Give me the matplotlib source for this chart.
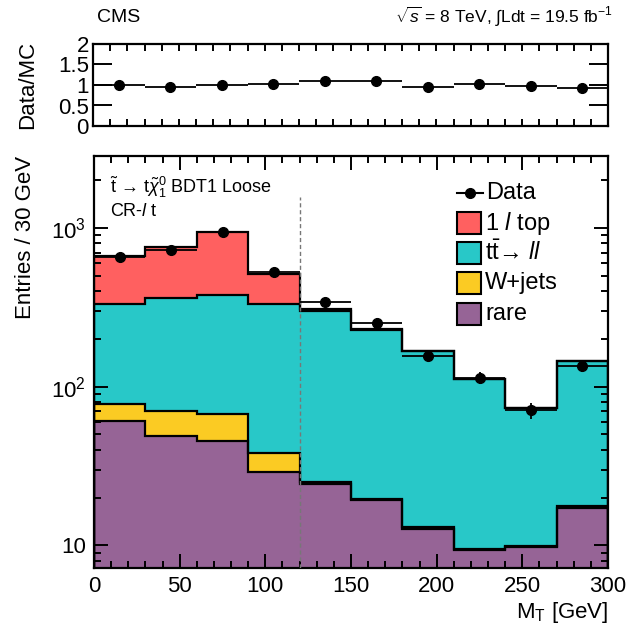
import numpy as np
import matplotlib
matplotlib.use("Agg")
import matplotlib.pyplot as plt
from matplotlib.patches import Rectangle
from matplotlib.lines import Line2D
from matplotlib.ticker import MultipleLocator, FixedLocator, NullFormatter

plt.rcParams['font.family'] = ['Liberation Sans', 'DejaVu Sans']
plt.rcParams['mathtext.fontset'] = 'custom'
plt.rcParams['mathtext.rm'] = 'Liberation Sans'
plt.rcParams['mathtext.it'] = 'Liberation Sans:italic'
plt.rcParams['mathtext.bf'] = 'Liberation Sans:bold'

# M_T binning [GeV]
edges = np.arange(0, 301, 30)
centers = 0.5 * (edges[:-1] + edges[1:])

# Background yields per bin (stack order bottom -> top)
rare = np.array([61, 49, 45.5, 29, 24.5, 19.2, 12.7, 9.4, 9.75, 17.1])
wjets = np.array([17, 21, 21.5, 9, 0.5, 0.3, 0.3, 0.1, 0.1, 0.6])
ttbar_ll = np.array([252, 290, 311, 292, 276, 208.5, 154, 102.5, 63.2, 127.3])
onelep_top = np.array([336, 395, 566, 181, 10, 2, 0.1, 0.1, 0.1, 0.1])

# Observed events
data = np.array([660, 725, 950, 528, 341, 254, 157, 114, 71, 136])

components = [
    ("rare", rare, "#966496"),
    ("W+jets", wjets, "#fbcb23"),
    (r"t$\bar{\rm t}$→ $\mathit{ll}$", ttbar_ll, "#28c8c8"),
    (r"1 $\mathit{l}$ top", onelep_top, "#ff6060"),
]

W, H = 630, 624
fig = plt.figure(figsize=(W / 100, H / 100), dpi=100)


def fx(px):
    return px / W


def fy(py):
    return 1 - py / H


ax_r = fig.add_axes([fx(93), fy(126), fx(608) - fx(93), fy(44) - fy(126)])
ax = fig.add_axes([fx(94), fy(568), fx(608) - fx(94), fy(155.7) - fy(568)])

ymin, ymax = 7.2, 2860

# Stacked histogram
base = np.full(len(rare), 1.0)
cum = np.zeros(len(rare))
for label, vals, col in components:
    cum = cum + vals
    ax.stairs(cum, edges, baseline=base, fill=True, color=col, zorder=1)
    base = cum.copy()
cum = np.zeros(len(rare))
for label, vals, col in components:
    cum = cum + vals
    ax.stairs(cum, edges, color='black', lw=1.6, zorder=2)
mc_total = cum

# Signal region boundary
ax.vlines(120, ymin, 1576, colors='#777777', linestyles=(0, (3, 2)), lw=1.0, zorder=3)

# Data
ax.errorbar(centers, data, xerr=15, yerr=np.sqrt(data), fmt='o', color='black',
            ms=7, lw=1.3, capsize=0, zorder=5)

ax.set_yscale('log')
ax.set_xlim(0, 300)
ax.set_ylim(ymin, ymax)
ax.yaxis.set_major_locator(FixedLocator([10, 100, 1000]))
ax.set_yticklabels(['10', r'$10^2$', r'$10^3$'])
ax.yaxis.set_minor_locator(FixedLocator(
    [m * 10 ** e for e in range(0, 4) for m in range(2, 10)]))
ax.yaxis.set_minor_formatter(NullFormatter())
ax.xaxis.set_major_locator(MultipleLocator(50))
ax.xaxis.set_minor_locator(MultipleLocator(10))

for a in (ax, ax_r):
    a.tick_params(which='both', direction='in', top=True, right=True,
                  labelsize=16, width=1.4, pad=6)
    a.tick_params(which='major', length=10)
    a.tick_params(which='minor', length=5)
    for s in a.spines.values():
        s.set_linewidth(1.6)

ax.set_xlabel(r'M$_{\rm T}$ [GeV]', fontsize=16, loc='right', labelpad=2)
ax.set_ylabel('Entries / 30 GeV', fontsize=16, loc='top')
ax.yaxis.set_label_coords((36 - 94) / 514, 1.0)

# Ratio panel
ratio = data / mc_total
ratio_err = np.sqrt(data) / mc_total
ax_r.errorbar(centers, ratio, xerr=15, yerr=ratio_err, fmt='o', color='black',
              ms=7, lw=1.3, capsize=0, zorder=5)
ax_r.set_xlim(0, 300)
ax_r.set_ylim(0, 2)
ax_r.set_yticks([0, 0.5, 1, 1.5, 2])
ax_r.set_yticklabels(['0', '0.5', '1', '1.5', '2'])
ax_r.xaxis.set_major_locator(MultipleLocator(50))
ax_r.xaxis.set_minor_locator(MultipleLocator(10))
ax_r.tick_params(axis='x', which='major', length=5)
ax_r.tick_params(axis='y', which='major', length=14, pad=3)
ax_r.set_xticklabels([])
ax_r.set_ylabel('Data/MC', fontsize=16)
ax_r.yaxis.set_label_coords((38 - 93) / 515, 0.5)

# Header
fig.text(fx(97), fy(17), 'CMS', fontsize=14, va='center', ha='left')
fig.text(fx(613), fy(17), r'$\sqrt{s}$ = 8 TeV, $\int$Ldt = 19.5 fb$^{-1}$',
         fontsize=12.5, va='center', ha='right')

# Selection labels
fig.text(fx(110), fy(187), r'$\tilde{\rm t}$ → t$\tilde{\chi}^{0}_{1}$ BDT1 Loose',
         fontsize=13, va='center', ha='left')
fig.text(fx(110), fy(211), r'CR-$\mathit{l}$ t', fontsize=13, va='center', ha='left')

# Legend
fig.add_artist(Line2D([fx(457), fx(483)], [fy(193), fy(193)], color='black', lw=1.5,
                      transform=fig.transFigure))
fig.add_artist(Line2D([fx(470)], [fy(193)], color='black', marker='o', ms=7,
                      transform=fig.transFigure))
fig.text(fx(486), fy(193), 'Data', fontsize=17, va='center', ha='left')
leg_rows = [(223, components[3]), (253, components[2]), (283, components[1]),
            (314, components[0])]
for yc, (label, vals, col) in leg_rows:
    fig.add_artist(Rectangle((fx(457), fy(yc + 11)), fx(24), 22 / H,
                             facecolor=col, edgecolor='black', lw=1.5,
                             transform=fig.transFigure))
    fig.text(fx(485), fy(yc), label, fontsize=17, va='center', ha='left')

fig.savefig('out.png', dpi=100)
